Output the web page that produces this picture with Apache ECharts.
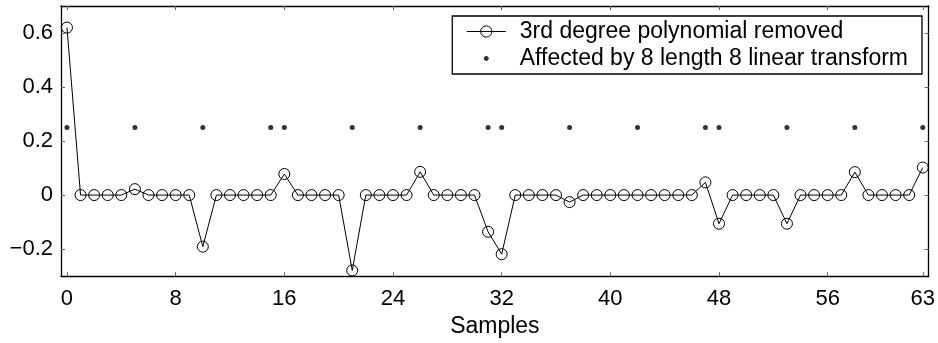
<!DOCTYPE html>
<html>
<head>
<meta charset="utf-8">
<script src="https://cdn.jsdelivr.net/npm/echarts@6/dist/echarts.min.js"></script>
<style>
html,body{margin:0;padding:0;background:#fff;}
#chart{width:938px;height:343px;}
</style>
</head>
<body>
<div id="chart"></div>
<script>
// Data
const seriesNames = ['3rd degree polynomial removed', 'Affected by 8 length 8 linear transform'];
const polyValues = [
  0.62, 0, 0, 0, 0, 0.022, 0, 0, 0, 0,
  -0.191, 0, 0, 0, 0, 0, 0.078, 0, 0, 0,
  0, -0.279, 0, 0, 0, 0, 0.086, 0, 0, 0,
  0, -0.136, -0.219, 0, 0, 0, 0, -0.026, 0, 0,
  0, 0, 0, 0, 0, 0, 0, 0.047, -0.106, 0,
  0, 0, 0, -0.106, 0, 0, 0, 0, 0.085, 0,
  0, 0, 0, 0.102
];
const affectedSamples = [0, 5, 10, 15, 16, 21, 26, 31, 32, 37, 42, 47, 48, 53, 58, 63];
const affectedLevel = 0.25;
const xTicks = [0, 8, 16, 24, 32, 40, 48, 56, 63];
const yTicks = [-0.2, 0, 0.2, 0.4, 0.6];
const xLabel = 'Samples';

const polyData = polyValues.map((v, i) => [i, v]);
const affectedData = affectedSamples.map(s => [s, affectedLevel]);

const FONT = '"Liberation Sans", Arial, Helvetica, sans-serif';
const fmtY = v => {
  const r = Math.round(v * 10) / 10;
  if (r === 0) return '0';
  return (r < 0 ? '\u2212' : '') + Math.abs(r).toFixed(1);
};

const chart = echarts.init(document.getElementById('chart'), null, {renderer: 'canvas'});
const tickStyle = {show: true, inside: true, length: 4, lineStyle: {color: '#666', width: 1}};
const axisLineStyle = {show: true, onZero: false, lineStyle: {color: '#000', width: 1.3}};

chart.setOption({
  animation: false,
  backgroundColor: '#fff',
  textStyle: {fontFamily: FONT},
  grid: {left: 61, right: 7, top: 6, bottom: 64, containLabel: false},
  legend: {
    show: true,
    orient: 'vertical',
    right: 16,
    top: 16,
    backgroundColor: '#fff',
    borderColor: '#000',
    borderWidth: 1.3,
    borderRadius: 0,
    padding: [4, 14, 4, 14],
    itemGap: 4,
    itemWidth: 39,
    itemHeight: 14,
    lineStyle: {width: 1, color: '#000'},
    itemStyle: {borderWidth: 1},
    textStyle: {fontFamily: FONT, fontSize: 23, color: '#000', padding: [0, 0, 0, 9]},
    data: [
      {name: seriesNames[0], itemStyle: {color: 'rgba(0,0,0,0)', borderColor: '#000', borderWidth: 1}, lineStyle: {width: 1, color: '#000'}},
      {name: seriesNames[1], icon: 'path://M0,0L0.01,0M39,14L39.01,14M17,7A2.5,2.5 0 1,0 22,7A2.5,2.5 0 1,0 17,7Z', itemStyle: {color: '#000', borderWidth: 0}}
    ]
  },
  xAxis: [
    {
      type: 'value', min: -0.44, max: 63.44, position: 'bottom',
      name: xLabel, nameLocation: 'middle', nameGap: 35,
      nameTextStyle: {fontFamily: FONT, fontSize: 23, color: '#000'},
      axisLine: axisLineStyle,
      axisTick: Object.assign({customValues: xTicks}, tickStyle),
      axisLabel: {customValues: xTicks, fontFamily: FONT, fontSize: 22, color: '#000', margin: 12},
      splitLine: {show: false}
    },
    {
      type: 'value', min: -0.44, max: 63.44, position: 'top',
      axisLine: axisLineStyle,
      axisTick: Object.assign({customValues: xTicks}, tickStyle),
      axisLabel: {show: false},
      splitLine: {show: false}
    }
  ],
  yAxis: [
    {
      type: 'value', min: -0.3, max: 0.7, position: 'left',
      axisLine: axisLineStyle,
      axisTick: Object.assign({customValues: yTicks}, tickStyle),
      axisLabel: {customValues: yTicks, formatter: fmtY, fontFamily: FONT, fontSize: 22, color: '#000', margin: 8},
      splitLine: {show: false}
    },
    {
      type: 'value', min: -0.3, max: 0.7, position: 'right',
      axisLine: axisLineStyle,
      axisTick: Object.assign({customValues: yTicks}, tickStyle),
      axisLabel: {show: false},
      splitLine: {show: false}
    }
  ],
  series: [
    {
      name: seriesNames[0],
      type: 'line',
      data: polyData,
      xAxisIndex: 0, yAxisIndex: 0,
      symbol: 'circle',
      symbolSize: 11,
      showAllSymbol: true,
      lineStyle: {color: '#000', width: 1},
      itemStyle: {color: 'rgba(0,0,0,0)', borderColor: '#000', borderWidth: 1},
      emphasis: {disabled: true},
      z: 2
    },
    {
      name: seriesNames[1],
      type: 'scatter',
      data: affectedData,
      xAxisIndex: 0, yAxisIndex: 0,
      symbol: 'circle',
      symbolSize: 5,
      itemStyle: {color: '#000'},
      emphasis: {disabled: true},
      z: 3
    }
  ]
});
</script>
</body>
</html>
